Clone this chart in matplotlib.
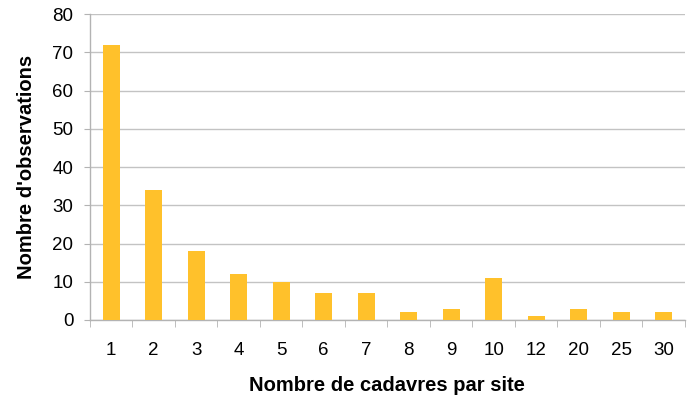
import numpy as np
import matplotlib.pyplot as plt

plt.rcParams['font.family'] = ['Liberation Sans', 'DejaVu Sans']

categories = ['1', '2', '3', '4', '5', '6', '7', '8', '9', '10', '12', '20', '25', '30']
observations = [72, 34, 18, 12, 10, 7, 7, 2, 3, 11, 1, 3, 2, 2]

fig = plt.figure(figsize=(6.94, 4.01), dpi=100)
ax = fig.add_axes([0.1297, 0.202, 0.857, 0.763])

x = np.arange(len(categories))
ax.bar(x, observations, width=0.4, color='#ffc12b', zorder=3)

ax.set_xlim(-0.5, len(categories) - 0.5)
ax.set_ylim(0, 80)
ax.set_yticks(np.arange(0, 81, 10))
ax.set_xticks(x)
ax.set_xticklabels(categories)
ax.set_xticks(np.arange(-0.5, len(categories)), minor=True)

ax.yaxis.grid(True, color='#c3c3c3', linewidth=1, zorder=0)
for s in ['top', 'right']:
    ax.spines[s].set_visible(False)
for s in ['left', 'bottom']:
    ax.spines[s].set_color('#b3b3b3')
    ax.spines[s].set_linewidth(1)

ax.tick_params(axis='y', length=4, color='#b3b3b3', labelsize=13.5, pad=8)
ax.tick_params(axis='x', which='major', length=0, labelsize=13.5, pad=16)
ax.tick_params(axis='x', which='minor', length=5, color='#b3b3b3')

ax.set_xlabel('Nombre de cadavres par site', fontsize=14.5, fontweight='bold', labelpad=12)
ax.set_ylabel("Nombre d'observations", fontsize=14.5, fontweight='bold', labelpad=12)

fig.savefig('out.png', dpi=100)
